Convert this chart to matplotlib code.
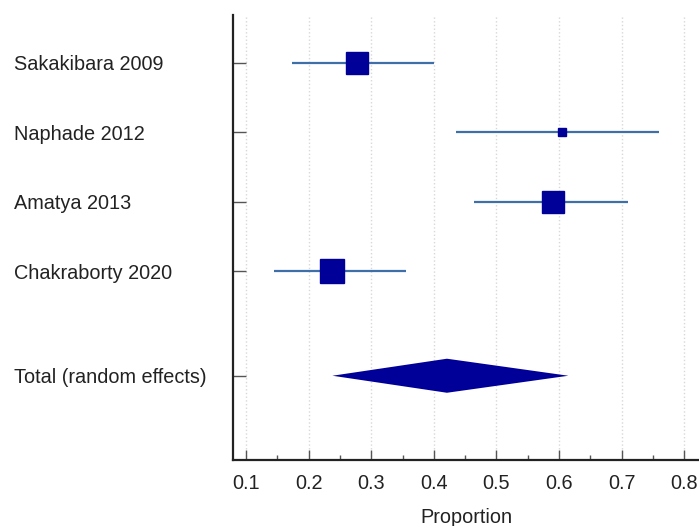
import numpy as np
import matplotlib.pyplot as plt
from matplotlib.ticker import MultipleLocator

plt.rcParams['font.family'] = ['Liberation Sans', 'DejaVu Sans']

# Datos del forest plot (proporciones e IC 95%)
estudios = ['Sakakibara 2009', 'Naphade 2012', 'Amatya 2013', 'Chakraborty 2020']
proporcion = [0.277, 0.605, 0.591, 0.238]
ic_inf = [0.173, 0.435, 0.464, 0.145]
ic_sup = [0.400, 0.760, 0.710, 0.355]
pesos = [27.9, 5.1, 30.6, 36.4]

total_label = 'Total (random effects)'
total_est = 0.421
total_inf = 0.238
total_sup = 0.615

fig = plt.figure(figsize=(6.99, 5.26), dpi=100)
ax = fig.add_axes([233 / 699, 0.1255, 1 - 233 / 699, 0.846])

y_est = np.arange(1, len(estudios) + 1)
y_total = len(estudios) + 1.5

# Lineas de intervalo y cuadrados
for y, p, lo, hi, w in zip(y_est, proporcion, ic_inf, ic_sup, pesos):
    ax.plot([lo, hi], [y, y], color='#3f6fa8', lw=1.6, zorder=2, solid_capstyle='butt')
    ms = np.sqrt(w) * 3.98 * 0.72
    ax.plot(p, y, marker='s', ms=ms, color='#000099', mec='#000099', zorder=3)

# Diamante del total
h = 0.245
ax.fill([total_inf, total_est, total_sup, total_est],
        [y_total, y_total - h, y_total, y_total + h],
        color='#000099', zorder=3, lw=0)

ax.set_xlim(0.1 - 13 / 626, 0.1 + 453 / 626)
ax.set_ylim(1 + 397 / 69.5, 1 - 48 / 69.5)

fs = 14.3
ax.set_yticks(list(y_est) + [y_total])
ax.set_yticklabels(estudios + [total_label], fontsize=fs, ha='left', color='#222222')
ax.tick_params(axis='y', direction='in', length=9, width=1, color='#555555', pad=158)

ax.xaxis.set_major_locator(MultipleLocator(0.1))
ax.xaxis.set_minor_locator(MultipleLocator(0.05))
ax.set_xticks(np.arange(0.1, 0.81, 0.1))
ax.set_xticklabels([f'{v:.1f}' for v in np.arange(0.1, 0.81, 0.1)], fontsize=fs, color='#222222')
ax.tick_params(axis='x', which='major', direction='in', length=7, width=1, color='#555555', pad=10)
ax.tick_params(axis='x', which='minor', direction='in', length=3.5, width=1, color='#555555')
ax.set_xlabel('Proportion', fontsize=fs, labelpad=11, color='#222222')

ax.grid(axis='x', which='major', color='#d8d8d8', ls=':', lw=1)
ax.set_axisbelow(True)

for s in ['top', 'right']:
    ax.spines[s].set_visible(False)
for s in ['left', 'bottom']:
    ax.spines[s].set_linewidth(1.6)
    ax.spines[s].set_color('#222222')

fig.savefig('out.png', dpi=100)
